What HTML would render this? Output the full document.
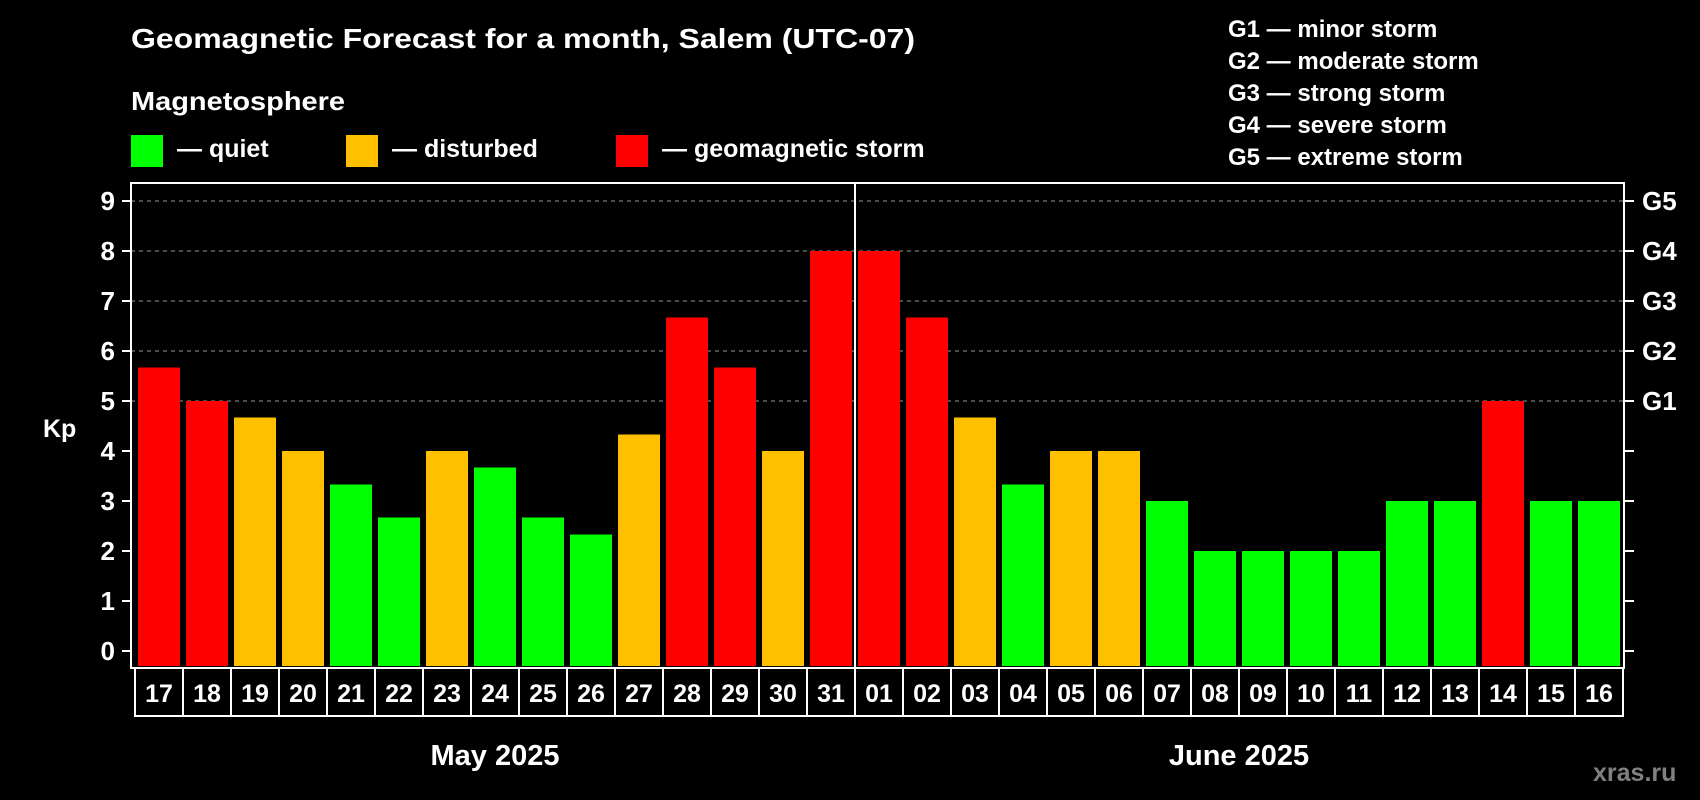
<!DOCTYPE html>
<html><head><meta charset="utf-8"><style>
html,body{margin:0;padding:0;background:#000;}
svg{display:block;font-family:"Liberation Sans",Arial,sans-serif;font-weight:bold;}
</style></head><body>
<svg id="chart" width="1700" height="800" viewBox="0 0 1700 800">
  <rect x="0" y="0" width="1700" height="800" fill="#000"/>
  <text x="131" y="48" fill="#fff" font-size="28" textLength="784" lengthAdjust="spacingAndGlyphs">Geomagnetic Forecast for a month, Salem (UTC-07)</text>
  <text x="131" y="110" fill="#fff" font-size="26" textLength="214" lengthAdjust="spacingAndGlyphs">Magnetosphere</text>
  <g>
    <rect x="131" y="135" width="32" height="32" fill="#00ff00"/>
    <text x="177" y="157" fill="#fff" font-size="25">— quiet</text>
    <rect x="346" y="135" width="32" height="32" fill="#ffc000"/>
    <text x="392" y="157" fill="#fff" font-size="25">— disturbed</text>
    <rect x="616" y="135" width="32" height="32" fill="#ff0000"/>
    <text x="662" y="157" fill="#fff" font-size="25">— geomagnetic storm</text>
  </g>
  <g font-size="24" fill="#fff">
    <text x="1228" y="37">G1 — minor storm</text>
    <text x="1228" y="69">G2 — moderate storm</text>
    <text x="1228" y="101">G3 — strong storm</text>
    <text x="1228" y="133">G4 — severe storm</text>
    <text x="1228" y="165">G5 — extreme storm</text>
  </g>
  <text x="43" y="437" fill="#fff" font-size="25">Kp</text>
  <text x="1593" y="781" fill="#808080" font-size="25">xras.ru</text>
  <g id="grid"></g>
  <g id="bars"></g>
  <g id="axes"></g>
</svg>
<script>
const days = ["17","18","19","20","21","22","23","24","25","26","27","28","29","30","31","01","02","03","04","05","06","07","08","09","10","11","12","13","14","15","16"];
const kpValues = [5.67,5,4.67,4,3.33,2.67,4,3.67,2.67,2.33,4.33,6.67,5.67,4,8,8,6.67,4.67,3.33,4,4,3,2,2,2,2,3,3,5,3,3];
const yTicks = [0,1,2,3,4,5,6,7,8,9];
const gLabels = ["G1","G2","G3","G4","G5"];
const gLevels = [5,6,7,8,9];
const months = ["May 2025","June 2025"];
const monthDayCounts = [15,16];

const NS = "http://www.w3.org/2000/svg";
const plotL = 131, plotR = 1624, plotT = 183, plotB = 668;
const boxL = 135, boxW = 48, boxB = 716;
const y0 = 651, unit = 50;
const yS = v => y0 - v * unit;
const xS = i => boxL + i * boxW;
function mk(tag, attrs, parent) {
  const e = document.createElementNS(NS, tag);
  for (const k in attrs) e.setAttribute(k, attrs[k]);
  parent.appendChild(e);
  return e;
}
const grid = document.getElementById("grid");
const bars = document.getElementById("bars");
const axes = document.getElementById("axes");

gLevels.forEach((lv, i) => {
  const l = mk("line", {x1: plotL, x2: plotR, y1: yS(lv), y2: yS(lv), stroke: "#999", "stroke-width": 1, "stroke-dasharray": "4,4"}, grid);
  
  
  const t = mk("text", {x: 1642, y: yS(lv) + 9, fill: "#fff", "font-size": 26}, axes);
  t.textContent = gLabels[i];
  
  
});

function colorFor(v) { return v >= 5 ? "#ff0000" : (v >= 4 ? "#ffc000" : "#00ff00"); }
kpValues.forEach((v, i) => {
  const r = mk("rect", {x: xS(i) + 3, y: yS(v), width: 42, height: (plotB - 2) - yS(v), fill: colorFor(v)}, bars);
  
  
});

const frame = mk("rect", {x: plotL, y: plotT, width: plotR - plotL, height: plotB - plotT, fill: "none", stroke: "#fff", "stroke-width": 2}, axes);



const divX = xS(monthDayCounts[0]);
const div = mk("line", {x1: divX, x2: divX, y1: plotT, y2: plotB, stroke: "#fff", "stroke-width": 2}, axes);



yTicks.forEach(v => {
  const tl = mk("line", {x1: plotL - 9, x2: plotL, y1: yS(v), y2: yS(v), stroke: "#fff", "stroke-width": 2}, axes);
  
  
  const tr = mk("line", {x1: plotR, x2: plotR + 10, y1: yS(v), y2: yS(v), stroke: "#fff", "stroke-width": 2}, axes);
  
  
  const t = mk("text", {x: 115, y: yS(v) + 9, fill: "#fff", "font-size": 26, "text-anchor": "end"}, axes);
  t.textContent = String(v);
  
  
});

days.forEach((d, i) => {
  const b = mk("rect", {x: xS(i), y: plotB, width: boxW, height: boxB - plotB, fill: "#000", stroke: "#fff", "stroke-width": 2}, axes);
  
  
  const t = mk("text", {x: xS(i) + boxW / 2, y: plotB + 34, fill: "#fff", "font-size": 25, "text-anchor": "middle"}, axes);
  t.textContent = d;
  
  
});

let start = 0;
months.forEach((m, i) => {
  const cx = xS(start) + monthDayCounts[i] * boxW / 2;
  const t = mk("text", {x: cx, y: 765, fill: "#fff", "font-size": 29, "text-anchor": "middle"}, axes);
  t.textContent = m;
  
  
  start += monthDayCounts[i];
});
</script>
</body></html>
